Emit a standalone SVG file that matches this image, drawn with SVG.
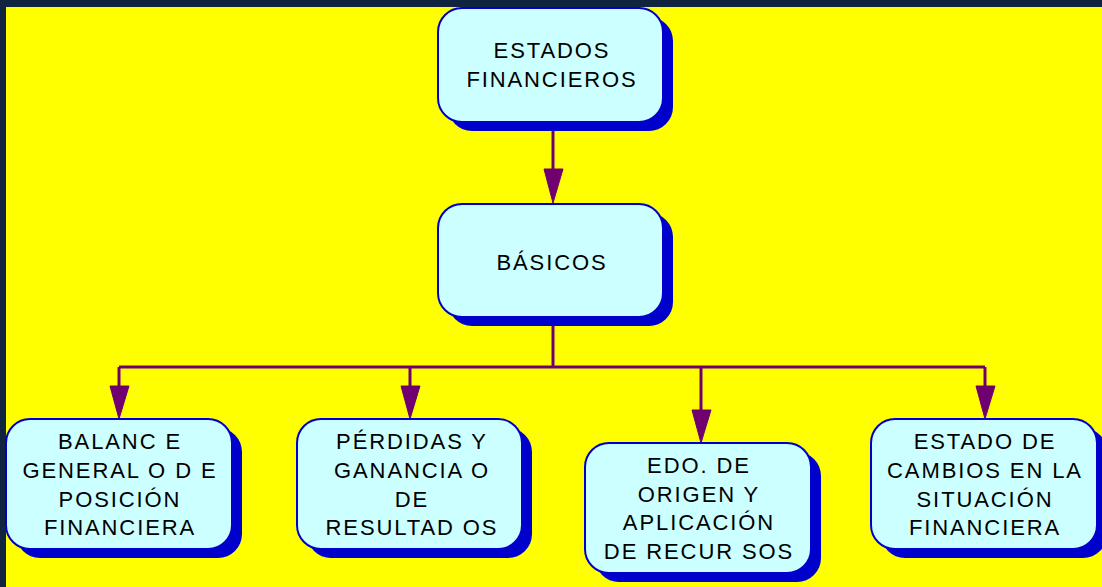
<svg xmlns="http://www.w3.org/2000/svg" width="1102" height="587" viewBox="0 0 1102 587">
<style>
.sh{fill:#0000CC;}
.bx{fill:#CCFFFF;stroke:#0000CC;stroke-width:2;}
.t{font-family:"Liberation Sans",Arial,sans-serif;font-size:22px;fill:#000;text-anchor:middle;letter-spacing:1.9px;}
.ln{stroke:#700070;stroke-width:3;fill:none;}
.ah{fill:#700070;stroke:#700070;stroke-width:1;}
</style>
<rect x="0" y="0" width="1102" height="587" fill="#10233F"/>
<rect x="6" y="7" width="1096" height="580" fill="#FFFF00"/>
<g id="connectors">
<line class="ln" x1="553" y1="131" x2="553" y2="172"/>
<polygon class="ah" points="544,169 563,169 553,203"/>
<polyline class="ln" points="553,326 553,367"/>
<line class="ln" x1="119" y1="367" x2="985" y2="367"/>
<line class="ln" x1="119" y1="367" x2="119" y2="390"/>
<polygon class="ah" points="110,386 129,386 119,419"/>
<line class="ln" x1="410" y1="367" x2="410" y2="390"/>
<polygon class="ah" points="401,386 420,386 410,419"/>
<line class="ln" x1="701" y1="367" x2="701" y2="414"/>
<polygon class="ah" points="692,410 711,410 701,443"/>
<line class="ln" x1="985" y1="367" x2="985" y2="390"/>
<polygon class="ah" points="976,386 995,386 985,419"/>
</g>
<g id="estados-financieros">
<rect class="sh" x="448" y="17" width="225" height="114" rx="24"/>
<rect class="bx" x="438" y="8" width="225" height="114" rx="24"/>
<text class="t" x="552" y="58">ESTADOS</text>
<text class="t" x="552" y="87">FINANCIEROS</text>
</g>
<g id="basicos">
<rect class="sh" x="448" y="213" width="225" height="113" rx="24"/>
<rect class="bx" x="438" y="204" width="225" height="113" rx="24"/>
<text class="t" x="552" y="270">BÁSICOS</text>
</g>
<g id="balance">
<rect class="sh" x="16" y="428" width="226" height="130" rx="24"/>
<rect class="bx" x="6" y="419" width="226" height="130" rx="24"/>
<text class="t" x="120" y="449">BALANC E</text>
<text class="t" x="120" y="478">GENERAL O D E</text>
<text class="t" x="120" y="507">POSICIÓN</text>
<text class="t" x="120" y="535">FINANCIERA</text>
</g>
<g id="perdidas">
<rect class="sh" x="307" y="428" width="225" height="130" rx="24"/>
<rect class="bx" x="297" y="419" width="225" height="130" rx="24"/>
<text class="t" x="412" y="449">PÉRDIDAS Y</text>
<text class="t" x="412" y="478">GANANCIA O</text>
<text class="t" x="412" y="507">DE</text>
<text class="t" x="412" y="535">RESULTAD OS</text>
</g>
<g id="origen-aplicacion">
<rect class="sh" x="595" y="452" width="226" height="130" rx="24"/>
<rect class="bx" x="585" y="443" width="226" height="130" rx="24"/>
<text class="t" x="699" y="473">EDO. DE</text>
<text class="t" x="699" y="502">ORIGEN Y</text>
<text class="t" x="699" y="530">APLICACIÓN</text>
<text class="t" x="699" y="559">DE RECUR SOS</text>
</g>
<g id="cambios-situacion">
<rect class="sh" x="881" y="428" width="226" height="130" rx="24"/>
<rect class="bx" x="871" y="419" width="226" height="130" rx="24"/>
<text class="t" x="985" y="449">ESTADO DE</text>
<text class="t" x="985" y="478">CAMBIOS EN LA</text>
<text class="t" x="985" y="507">SITUACIÓN</text>
<text class="t" x="985" y="535">FINANCIERA</text>
</g>
</svg>
